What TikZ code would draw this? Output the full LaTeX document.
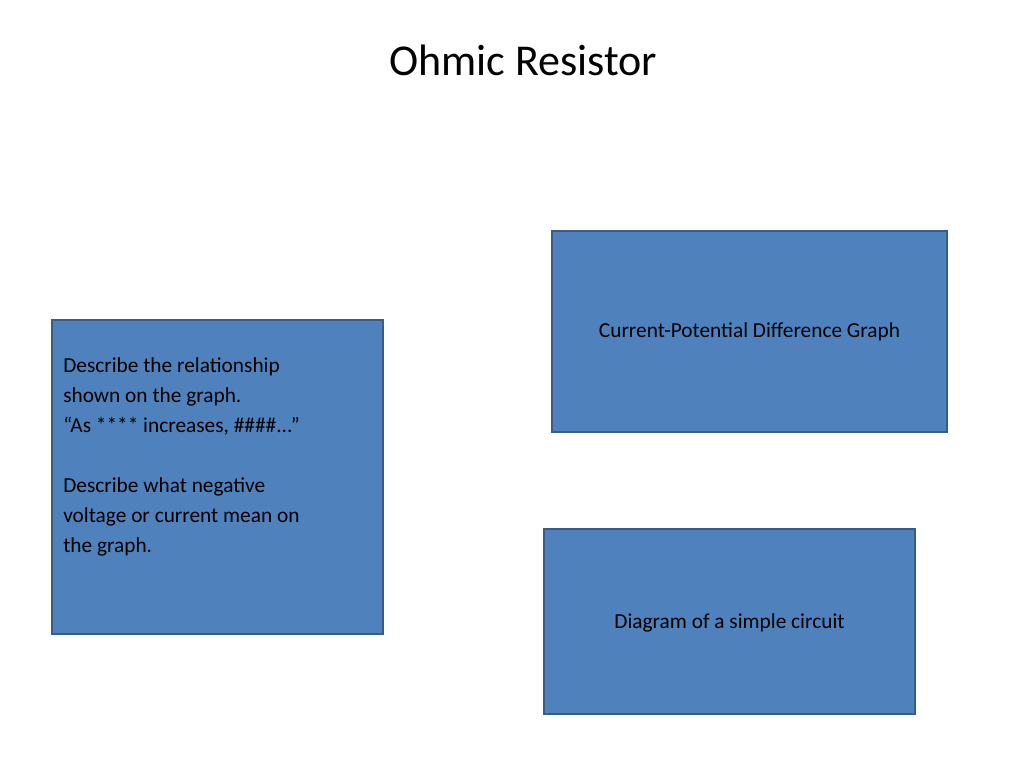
\documentclass[tikz,border=0pt]{standalone}
\usepackage{fontspec}
\setmainfont{Carlito}
\definecolor{boxfill}{HTML}{4F81BD}
\definecolor{boxline}{HTML}{385D8A}
\begin{document}
\begin{tikzpicture}[x=0.75pt, y=-0.75pt,
  panel/.style={draw=boxline, line width=1.5pt, fill=boxfill},
  every node/.style={font=\fontsize{16}{22.5}\selectfont}]
\useasboundingbox (0,0) rectangle (1024,768);
\node (title) at (523,60) {\fontsize{33}{38}\selectfont Ohmic Resistor};

\draw[panel] (52,320) rectangle (383,634);
\draw[panel] (552,231) rectangle (947,432);
\draw[panel] (544,529) rectangle (915,714);

\node (Task) [anchor=north west, align=left, inner sep=0pt] at (63,357)
  {Describe the relationship\\shown on the graph.\\“As **** increases, \#\#\#\#...”\\[22.5pt]Describe what negative\\voltage or current mean on\\the graph.};
\node (Graph) at (749.5,332) {Current-Potential Difference Graph};
\node (Circuit) at (729.5,623) {Diagram of a simple circuit};
\end{tikzpicture}
\end{document}
